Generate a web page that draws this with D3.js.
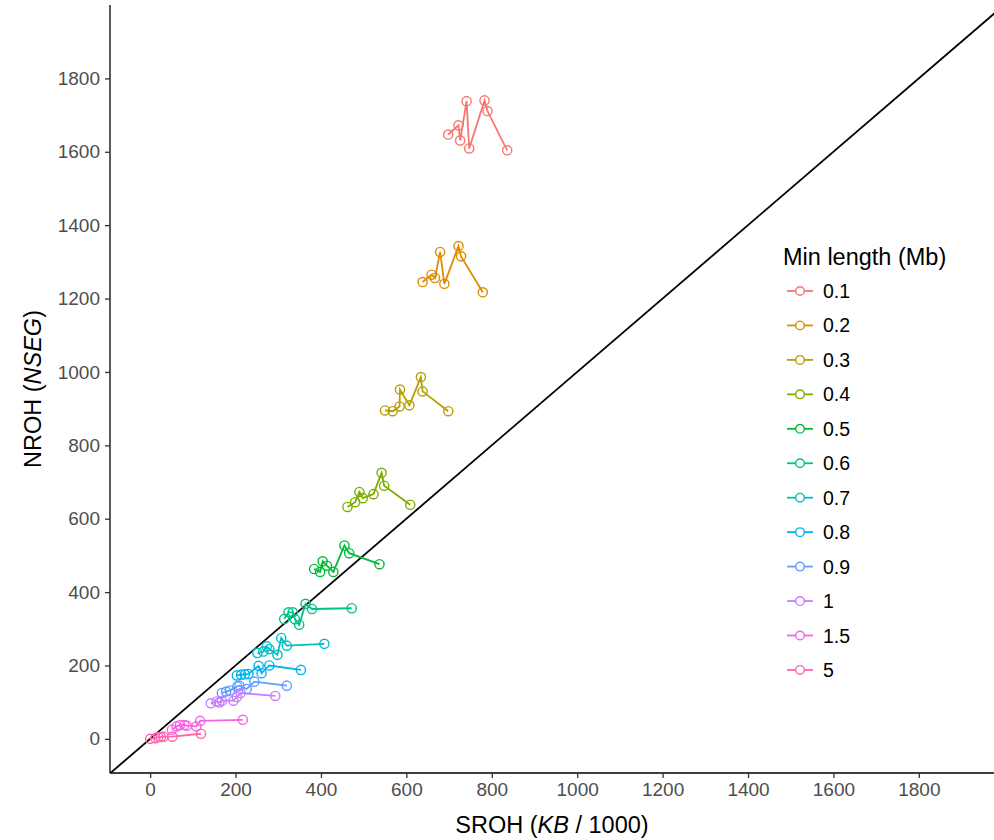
<!DOCTYPE html>
<html>
<head>
<script src="https://cdnjs.cloudflare.com/ajax/libs/d3/7.8.5/d3.min.js"></script>
<style>
  body { margin: 0; background: #fff; }
  text { font-family: "Liberation Sans", Arial, sans-serif; }
</style>
</head>
<body>
<div id="vis"></div>
<script>
// legend levels (Min length, Mb)
const levels = ["0.1", "0.2", "0.3", "0.4", "0.5", "0.6", "0.7", "0.8", "0.9", "1", "1.5", "5"];
const colors = ["#F8766D", "#DE8C00", "#B79F00", "#7CAE00", "#00BA38", "#00C08B",
                "#00BFC4", "#00B4F0", "#619CFF", "#C77CFF", "#F564E3", "#FF64B0"];

// SROH (x) and NROH (y) per level
const sroh = {
  "0.1": [698, 722, 726, 741, 747, 783, 790, 836],
  "0.2": [638, 659, 667, 679, 689, 722, 728, 779],
  "0.3": [550, 568, 584, 585, 607, 634, 638, 698],
  "0.4": [462, 480, 490, 498, 523, 542, 548, 609],
  "0.5": [384, 398, 404, 414, 429, 455, 466, 537],
  "0.6": [314, 324, 334, 339, 349, 364, 379, 472],
  "0.7": [251, 265, 273, 279, 298, 307, 320, 408],
  "0.8": [203, 213, 222, 230, 254, 261, 279, 353],
  "0.9": [168, 178, 187, 204, 209, 226, 244, 320],
  "1":   [142, 156, 162, 168, 195, 203, 212, 293],
  "1.5": [51, 62, 70, 80, 86, 108, 117, 217],
  "5":   [0, 12, 19, 25, 31, 52, 119]
};
const nroh = {
  "0.1": [1647, 1672, 1631, 1738, 1609, 1740, 1711, 1604],
  "0.2": [1245, 1265, 1256, 1327, 1240, 1343, 1315, 1217],
  "0.3": [895, 893, 906, 952, 909, 986, 947, 893],
  "0.4": [632, 645, 673, 656, 667, 725, 690, 638],
  "0.5": [463, 455, 484, 472, 455, 527, 506, 476],
  "0.6": [327, 345, 345, 326, 311, 368, 354, 356],
  "0.7": [234, 238, 252, 245, 229, 275, 254, 259],
  "0.8": [173, 175, 176, 177, 199, 179, 200, 188],
  "0.9": [125, 129, 132, 143, 145, 136, 156, 145],
  "1":   [97, 102, 99, 104, 104, 114, 125, 117],
  "1.5": [25, 34, 38, 38, 36, 34, 49, 52],
  "5":   [0, 2, 5, 5, 6, 6, 14]
};
const ticks = [0, 200, 400, 600, 800, 1000, 1200, 1400, 1600, 1800];

const W = 994, H = 840;
const pLeft = 110, pRight = 994, pTop = 5, pBottom = 773;

const svg = d3.select("#vis").append("svg").attr("width", W).attr("height", H);

const x = d3.scaleLinear().domain([-94, 1976]).range([pLeft, pRight]);
const y = d3.scaleLinear().domain([-93, 2000]).range([pBottom, pTop]);
const color = d3.scaleOrdinal().domain(levels).range(colors);

svg.append("clipPath").attr("id", "panel")
  .append("rect").attr("x", pLeft).attr("y", pTop).attr("width", pRight - pLeft).attr("height", pBottom - pTop);

// identity line
svg.append("line")
  .attr("clip-path", "url(#panel)")
  .attr("x1", x(-94)).attr("y1", y(-94))
  .attr("x2", x(2100)).attr("y2", y(2100))
  .style("stroke", "black").style("stroke-width", 1.8);

const series = levels.map(k => ({
  key: k,
  pts: d3.zip(sroh[k], nroh[k]).map(v => ({x: v[0], y: v[1]})).sort((a, b) => a.x - b.x)
}));

const line = d3.line().x(d => x(d.x)).y(d => y(d.y));

const g = svg.append("g");
series.forEach(s => {
  g.append("path")
    .attr("d", line(s.pts))
    .style("fill", "none")
    .style("stroke", color(s.key))
    .style("stroke-width", 1.8);
  g.selectAll(null)
    .data(s.pts)
    .enter()
    .append("circle")
    .attr("cx", d => x(d.x))
    .attr("cy", d => y(d.y))
    .attr("r", 4.6)
    .style("fill", "none")
    .style("stroke", color(s.key))
    .style("stroke-width", 1.4);
});

// axes
const fmt = d3.format("d");
const xAxis = svg.append("g").attr("transform", `translate(0,${pBottom})`)
  .call(d3.axisBottom(x).tickValues(ticks).tickFormat(fmt).tickSize(5).tickPadding(5).tickSizeOuter(0));
const yAxis = svg.append("g").attr("transform", `translate(${pLeft},0)`)
  .call(d3.axisLeft(y).tickValues(ticks).tickFormat(fmt).tickSize(5).tickPadding(5).tickSizeOuter(0));
[xAxis, yAxis].forEach(a => {
  a.select(".domain").style("stroke", "black").style("stroke-width", 1.3);
  a.selectAll(".tick line").style("stroke", "#333").style("stroke-width", 1.3);
  a.selectAll(".tick text").style("fill", "#4D4D4D").style("font-size", "19px")
    .style("font-family", "'Liberation Sans', Arial, sans-serif");
});
xAxis.select(".domain").attr("d", `M${pLeft},0H${pRight}`);
yAxis.select(".domain").attr("d", `M0,${pBottom}V${pTop}`);

// axis titles
const xt = svg.append("text")
  .attr("x", (pLeft + pRight) / 2).attr("y", 833)
  .attr("text-anchor", "middle").style("font-size", "23.5px");
xt.append("tspan").text("SROH (");
xt.append("tspan").style("font-style", "italic").text("KB");
xt.append("tspan").text(" / 1000)");

const yt = svg.append("text")
  .attr("transform", `translate(41,${(pTop + pBottom) / 2}) rotate(-90)`)
  .attr("text-anchor", "middle").style("font-size", "23.5px");
yt.append("tspan").text("NROH (");
yt.append("tspan").style("font-style", "italic").text("NSEG");
yt.append("tspan").text(")");

// legend
const lg = svg.append("g").attr("transform", "translate(783,0)");
lg.append("text").attr("x", 0).attr("y", 265).style("font-size", "23.5px").text("Min length (Mb)");
levels.forEach((k, i) => {
  const yy = 291 + i * 34.45;
  lg.append("line").attr("x1", 4).attr("x2", 30).attr("y1", yy).attr("y2", yy)
    .style("stroke", color(k)).style("stroke-width", 1.8);
  lg.append("circle").attr("cx", 17).attr("cy", yy).attr("r", 4.3)
    .style("fill", "white").style("stroke", color(k)).style("stroke-width", 1.4);
  lg.append("text").attr("x", 40).attr("y", yy + 7).style("font-size", "19.5px").text(k);
});
</script>
</body>
</html>
